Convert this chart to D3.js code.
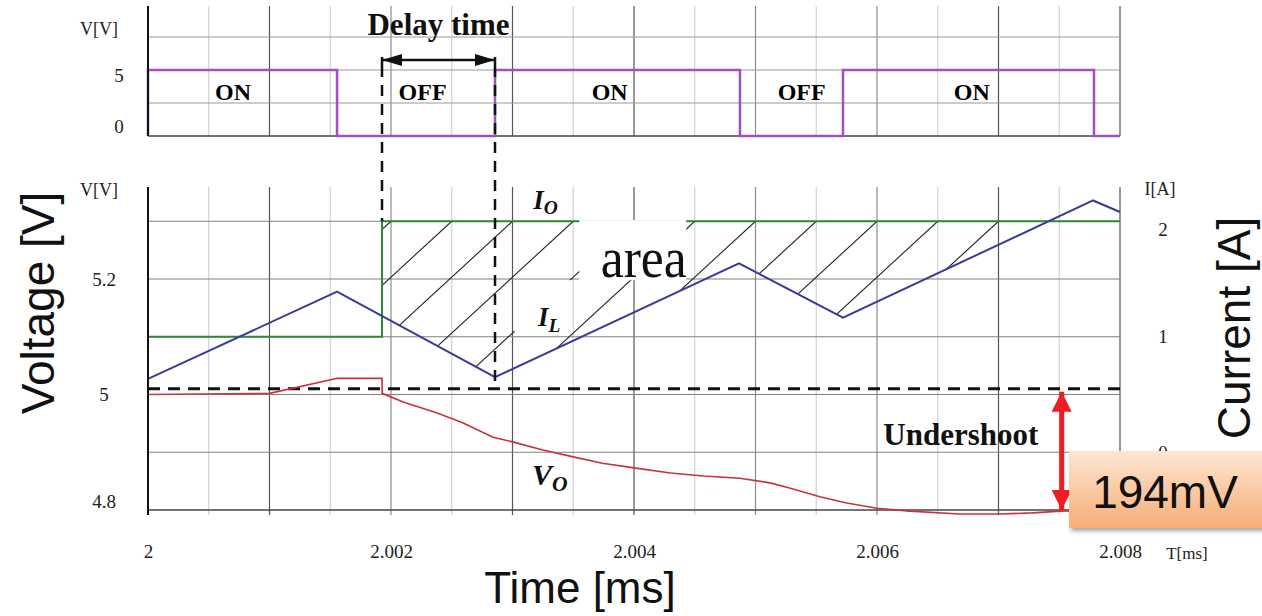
<!DOCTYPE html>
<html lang="en">
<head>
<meta charset="UTF-8">
<title>Load step response</title>
<script src="https://cdn.jsdelivr.net/npm/d3@7"></script>
<style>
  body { margin: 0; background: #fff; }
  svg { display: block; }
</style>
</head>
<body>
<script>
// ---- data ----
// time axis [ms]
var timeTicks = [2, 2.002, 2.004, 2.006, 2.008];
var gridTimes = [2, 2.0005, 2.001, 2.0015, 2.002, 2.0025, 2.003, 2.0035, 2.004,
                 2.0045, 2.005, 2.0055, 2.006, 2.0065, 2.007, 2.0075, 2.008];
var darkTimes = [2.001, 2.003, 2.004, 2.007, 2.008];
var midTimes = [2.002, 2.005, 2.006];

// left / right axes
var voltTicks = [4.8, 5, 5.2];
var voltGrid = [4.9, 5, 5.1, 5.2, 5.3];
var currTicks = [0, 1, 2];
var gateTicks = [0, 5];
var gateGrid = [2.5, 5, 7.5];

// switch gate signal
var gateT = [2, 2, 2.001556, 2.002856, 2.004872, 2.00572, 2.007786, 2.008];
var gateV = [0, 5, 0, 5, 0, 5, 0, 0];
var gateLabels = ["ON", "OFF", "ON", "OFF", "ON"];
var gateLabelT = [2.0007, 2.00226, 2.0038, 2.00538, 2.00678];

// inductor current I_L [A]
var ilT = [2, 2.001556, 2.002856, 2.004864, 2.00572, 2.007778, 2.008];
var ilA = [0.635, 1.39, 0.65, 1.635, 1.165, 2.18, 2.08];

// load current I_O [A]
var ioT = [2, 2.001926, 2.001926, 2.008];
var ioA = [1, 1, 2, 2];

// output voltage V_O [V]
var voT = [2, 2.001, 2.00156, 2.001926, 2.001927, 2.0021, 2.00238, 2.00259, 2.00284,
           2.003, 2.00325, 2.0035, 2.00374, 2.004, 2.0043, 2.00457, 2.00487, 2.00512,
           2.00528, 2.00553, 2.00575, 2.006, 2.00627, 2.00668, 2.00701, 2.00728,
           2.00751, 2.0078];
var voV = [5.0, 5.002, 5.028, 5.028, 5.002, 4.987, 4.968, 4.951, 4.926,
           4.918, 4.904, 4.892, 4.881, 4.873, 4.864, 4.859, 4.855, 4.847,
           4.838, 4.823, 4.812, 4.803, 4.798, 4.793, 4.793, 4.795,
           4.798, 4.800];

var refV = 5.01;           // dashed reference level
var stepT = 2.001926;      // load step
var turnOnT = 2.002856;    // switch turns back on
var undershootT = 2.00752; // red arrow
var hatchT = [2.002, 2.0025, 2.003, 2.0035, 2.004, 2.0045, 2.005, 2.0055, 2.006, 2.0065, 2.007];

// ---- chart ----
var W = 1262, H = 616;
var svg = d3.select("body").append("svg")
  .attr("width", W).attr("height", H)
  .style("background", "#fff");

var x = d3.scaleLinear().domain([2, 2.008]).range([148, 1120]);
var yV = d3.scaleLinear().domain([4.8, 5.3]).range([510, 221.25]);
var yI = d3.scaleLinear().domain([0, 2]).range([yV(4.9), yV(5.3)]);
var yG = d3.scaleLinear().domain([0, 5]).range([136, 70]);

var serif = '"Liberation Serif", "Times New Roman", serif';
var sans = '"Liberation Sans", Arial, sans-serif';
var plain = function(d) { return String(d); };

var defs = svg.append("defs");
function head(id, color, len, wid) {
  defs.append("marker")
    .attr("id", id)
    .attr("viewBox", "0 0 " + len + " " + wid)
    .attr("refX", len).attr("refY", wid / 2)
    .attr("markerWidth", len).attr("markerHeight", wid)
    .attr("markerUnits", "userSpaceOnUse")
    .attr("orient", "auto-start-reverse")
    .append("path")
    .attr("d", "M0,0L" + len + "," + (wid / 2) + "L0," + wid + "Z")
    .attr("fill", color);
}
head("blackHead", "#111", 20, 12);
head("redHead", "#ee1c24", 20, 20);

var grad = defs.append("linearGradient").attr("id", "boxGrad")
  .attr("x1", 0).attr("y1", 0).attr("x2", 0).attr("y2", 1);
grad.append("stop").attr("offset", "0%").attr("stop-color", "#fde7d4");
grad.append("stop").attr("offset", "100%").attr("stop-color", "#f7ad76");

var shadow = defs.append("filter").attr("id", "shadow")
  .attr("x", "-10%").attr("y", "-10%").attr("width", "130%").attr("height", "140%");
shadow.append("feDropShadow").attr("dx", 2).attr("dy", 3)
  .attr("stdDeviation", 2).attr("flood-opacity", 0.35);

function gridColor(t) {
  var near = function(arr) { return arr.some(function(v) { return Math.abs(v - t) < 1e-7; }); };
  if (near(darkTimes)) return "#555";
  if (near(midTimes)) return "#8c8c8c";
  return "#d2d2d2";
}

// ---- top panel (gate signal) ----
var gatePanel = svg.append("g");
gatePanel.selectAll("line.vg").data(gridTimes.slice(1)).enter().append("line")
  .attr("x1", function(d) { return x(d); }).attr("x2", function(d) { return x(d); })
  .attr("y1", 6).attr("y2", yG(0))
  .attr("stroke", gridColor).attr("stroke-width", 1.2);
gatePanel.selectAll("line.hg").data(gateGrid).enter().append("line")
  .attr("x1", x(2)).attr("x2", x(2.008))
  .attr("y1", function(d) { return yG(d); }).attr("y2", function(d) { return yG(d); })
  .attr("stroke", "#9a9a9a").attr("stroke-width", 1);
gatePanel.append("line").attr("x1", x(2)).attr("x2", x(2.008))
  .attr("y1", yG(0)).attr("y2", yG(0)).attr("stroke", "#444").attr("stroke-width", 1.5);

var gateLine = d3.line()
  .x(function(d) { return x(d[0]); }).y(function(d) { return yG(d[1]); })
  .curve(d3.curveStepAfter);
gatePanel.append("path")
  .attr("d", gateLine(gateT.map(function(t, i) { return [t, gateV[i]]; })))
  .attr("fill", "none").attr("stroke", "#a24fc4").attr("stroke-width", 2.5);

gatePanel.append("line").attr("x1", x(2)).attr("x2", x(2))
  .attr("y1", 6).attr("y2", yG(0)).attr("stroke", "#111").attr("stroke-width", 2);

gatePanel.selectAll("text.gl").data(gateLabels).enter().append("text")
  .attr("x", function(d, i) { return x(gateLabelT[i]); }).attr("y", 100)
  .attr("text-anchor", "middle")
  .style("font-family", serif).style("font-weight", "bold").style("font-size", "24px")
  .text(function(d) { return d; });

var gAxis = gatePanel.append("g").attr("transform", "translate(119,0)")
  .call(d3.axisLeft(yG).tickValues(gateTicks).tickSize(0).tickPadding(0).tickFormat(plain));
gAxis.select(".domain").remove();
gAxis.selectAll("text").attr("text-anchor", "middle")
  .style("font-family", serif).style("font-size", "19px").attr("fill", "#222");
gAxis.selectAll(".tick").filter(function(d) { return d === 0; })
  .select("text").attr("dy", "-0.2em");
gAxis.selectAll(".tick").filter(function(d) { return d === 5; })
  .select("text").attr("dy", "0.6em");
gatePanel.append("text").attr("x", 99).attr("y", 35).attr("text-anchor", "middle")
  .style("font-family", serif).style("font-size", "18px").attr("fill", "#222").text("V[V]");

// ---- bottom panel ----
var bot = svg.append("g");
bot.selectAll("line.vg").data(gridTimes.slice(1)).enter().append("line")
  .attr("x1", function(d) { return x(d); }).attr("x2", function(d) { return x(d); })
  .attr("y1", 187).attr("y2", 515)
  .attr("stroke", gridColor).attr("stroke-width", 1.2);
bot.selectAll("line.hg").data(voltGrid).enter().append("line")
  .attr("x1", x(2)).attr("x2", x(2.008))
  .attr("y1", function(d) { return yV(d); }).attr("y2", function(d) { return yV(d); })
  .attr("stroke", "#808080").attr("stroke-width", 1.2);
bot.append("line").attr("x1", x(2)).attr("x2", x(2.008))
  .attr("y1", yV(4.8)).attr("y2", yV(4.8)).attr("stroke", "#444").attr("stroke-width", 1.6);

// hatch between I_O and I_L after the load step
function ilAt(t) {
  for (var i = 0; i < ilT.length - 1; i++) {
    if (t >= ilT[i] && t <= ilT[i + 1])
      return ilA[i] + (t - ilT[i]) / (ilT[i + 1] - ilT[i]) * (ilA[i + 1] - ilA[i]);
  }
  return ilA[ilA.length - 1];
}
var ioHigh = ioA[ioA.length - 1];
var hatchPts = [{ t: stepT, a: ilAt(stepT) }];
for (var i = 0; i < ilT.length - 1; i++) {
  if (ilT[i + 1] <= stepT) continue;
  if (ilA[i + 1] >= ioHigh) {
    var tc = ilT[i] + (ioHigh - ilA[i]) / (ilA[i + 1] - ilA[i]) * (ilT[i + 1] - ilT[i]);
    hatchPts.push({ t: tc, a: ioHigh });
    break;
  }
  hatchPts.push({ t: ilT[i + 1], a: ilA[i + 1] });
}
var hatchArea = d3.area()
  .x(function(d) { return x(d.t); })
  .y0(yI(ioHigh))
  .y1(function(d) { return yI(d.a); });
defs.append("clipPath").attr("id", "hatchClip")
  .append("path").attr("d", hatchArea(hatchPts));
var slope = 0.92;
bot.append("g").attr("clip-path", "url(#hatchClip)")
  .selectAll("line").data(hatchT).enter().append("line")
  .attr("x1", function(d) { return x(d); }).attr("y1", yI(ioHigh))
  .attr("x2", function(d) { return x(d) - 300; }).attr("y2", yI(ioHigh) + 300 * slope)
  .attr("stroke", "#222").attr("stroke-width", 1.1);

// gap in hatch for I_L label
bot.append("rect")
  .attr("x", x(2.003) + 2).attr("y", yI(1.49))
  .attr("width", x(2.0035) - x(2.003) - 4).attr("height", yI(1.04) - yI(1.49))
  .attr("fill", "#fff");

// dashed reference level
bot.append("line").attr("x1", x(2)).attr("x2", x(2.008))
  .attr("y1", yV(refV)).attr("y2", yV(refV))
  .attr("stroke", "#111").attr("stroke-width", 2.8).attr("stroke-dasharray", "12,8");

var line = d3.line().x(function(d) { return x(d[0]); }).y(function(d) { return d[1]; });

bot.append("path")
  .attr("d", line(ioT.map(function(t, i) { return [t, yI(ioA[i])]; })))
  .attr("fill", "none").attr("stroke", "#2f8a36").attr("stroke-width", 2);
bot.append("path")
  .attr("d", line(ilT.map(function(t, i) { return [t, yI(ilA[i])]; })))
  .attr("fill", "none").attr("stroke", "#3a3a9c").attr("stroke-width", 2);
bot.append("path")
  .attr("d", line(voT.map(function(t, i) { return [t, yV(voV[i])]; })))
  .attr("fill", "none").attr("stroke", "#c8323c").attr("stroke-width", 1.6);

bot.append("line").attr("x1", x(2)).attr("x2", x(2))
  .attr("y1", 187).attr("y2", 515).attr("stroke", "#111").attr("stroke-width", 2);

// axes labels
var vAxis = bot.append("g").attr("transform", "translate(104,0)")
  .call(d3.axisLeft(yV).tickValues(voltTicks).tickSize(0).tickPadding(0).tickFormat(plain));
vAxis.select(".domain").remove();
vAxis.selectAll("text").attr("text-anchor", "middle")
  .style("font-family", serif).style("font-size", "19px").attr("fill", "#222");
vAxis.selectAll(".tick").filter(function(d) { return d === 4.8; })
  .select("text").attr("dy", "-0.15em");
bot.append("text").attr("x", 99).attr("y", 196).attr("text-anchor", "middle")
  .style("font-family", serif).style("font-size", "18px").attr("fill", "#222").text("V[V]");

var iAxis = bot.append("g").attr("transform", "translate(1163,0)")
  .call(d3.axisRight(yI).tickValues(currTicks).tickSize(0).tickPadding(0).tickFormat(plain));
iAxis.select(".domain").remove();
iAxis.selectAll("text").attr("text-anchor", "middle")
  .style("font-family", serif).style("font-size", "19px").attr("fill", "#222");
iAxis.selectAll(".tick").filter(function(d) { return d === 2; })
  .select("text").attr("dy", "0.75em");
bot.append("text").attr("x", 1160).attr("y", 195).attr("text-anchor", "middle")
  .style("font-family", serif).style("font-size", "18px").attr("fill", "#222").text("I[A]");

var tAxis = bot.append("g").attr("transform", "translate(0,544)")
  .call(d3.axisBottom(x).tickValues(timeTicks).tickSize(0).tickPadding(0).tickFormat(plain));
tAxis.select(".domain").remove();
tAxis.selectAll("text").style("font-family", serif).style("font-size", "19px").attr("fill", "#222");
bot.append("text").attr("x", 1187).attr("y", 559).attr("text-anchor", "middle")
  .style("font-family", serif).style("font-size", "17px").attr("fill", "#222").text("T[ms]");

// ---- annotations ----
// delay time
svg.append("line").attr("x1", x(stepT)).attr("x2", x(turnOnT)).attr("y1", 60).attr("y2", 60)
  .attr("stroke", "#111").attr("stroke-width", 2.5)
  .attr("marker-start", "url(#blackHead)").attr("marker-end", "url(#blackHead)");
[stepT, turnOnT].forEach(function(t) {
  svg.append("line").attr("x1", x(t)).attr("x2", x(t)).attr("y1", 57).attr("y2", 66)
    .attr("stroke", "#111").attr("stroke-width", 2.5);
});
svg.append("line").attr("x1", x(stepT)).attr("x2", x(stepT))
  .attr("y1", 66).attr("y2", yI(ioHigh))
  .attr("stroke", "#111").attr("stroke-width", 2.5).attr("stroke-dasharray", "11,8");
svg.append("line").attr("x1", x(turnOnT)).attr("x2", x(turnOnT))
  .attr("y1", 66).attr("y2", yV(refV))
  .attr("stroke", "#111").attr("stroke-width", 2.5).attr("stroke-dasharray", "11,8");
svg.append("text").attr("x", (x(stepT) + x(turnOnT)) / 2).attr("y", 35)
  .attr("text-anchor", "middle")
  .style("font-family", serif).style("font-weight", "bold").style("font-size", "31px")
  .attr("fill", "#111").text("Delay time");

// curve labels
function sub(g, t, yy, main, s, size) {
  var tx = g.append("text").attr("x", x(t)).attr("y", yy)
    .style("font-family", serif).style("font-weight", "bold").style("font-style", "italic")
    .style("font-size", size + "px").attr("fill", "#111");
  tx.append("tspan").text(main);
  tx.append("tspan").attr("dy", size * 0.22).style("font-size", (size * 0.72) + "px").text(s);
}
sub(svg, 2.00317, yI(2.11), "I", "O", 27);
sub(svg, 2.00321, yI(1.09), "I", "L", 27);
sub(svg, 2.00316, yV(4.844), "V", "O", 30);

// "area" label
svg.append("rect").attr("x", x(2.00355)).attr("y", yI(2.01))
  .attr("width", x(2.00443) - x(2.00355)).attr("height", yV(5.198) - yI(2.01))
  .attr("fill", "#fff");
svg.append("text").attr("x", x(2.00408)).attr("y", yV(5.203))
  .attr("text-anchor", "middle")
  .attr("textLength", 86).attr("lengthAdjust", "spacingAndGlyphs")
  .style("font-family", serif).style("font-size", "58px").attr("fill", "#111").text("area");

// undershoot
svg.append("text").attr("x", x(2.00669)).attr("y", yV(4.912))
  .attr("text-anchor", "middle")
  .style("font-family", serif).style("font-weight", "bold").style("font-size", "31px")
  .attr("fill", "#111").text("Undershoot");

svg.append("line").attr("x1", x(undershootT)).attr("x2", x(undershootT))
  .attr("y1", yV(refV) + 3).attr("y2", yV(4.8))
  .attr("stroke", "#ee1c24").attr("stroke-width", 5)
  .attr("marker-start", "url(#redHead)").attr("marker-end", "url(#redHead)");

svg.append("rect").attr("x", 1069).attr("y", 451).attr("width", 200).attr("height", 77)
  .attr("fill", "url(#boxGrad)").attr("filter", "url(#shadow)");
svg.append("text").attr("x", 1165).attr("y", 508).attr("text-anchor", "middle")
  .style("font-family", sans).style("font-size", "46px").attr("fill", "#111").text("194mV");

// axis titles
svg.append("text").attr("transform", "translate(54,303) rotate(-90)")
  .attr("text-anchor", "middle")
  .style("font-family", sans).style("font-size", "46px").attr("fill", "#111").text("Voltage [V]");
svg.append("text").attr("transform", "translate(1250,328) rotate(-90)")
  .attr("text-anchor", "middle")
  .style("font-family", sans).style("font-size", "46px").attr("fill", "#111").text("Current [A]");
svg.append("text").attr("x", 580).attr("y", 603).attr("text-anchor", "middle")
  .style("font-family", sans).style("font-size", "44px").attr("fill", "#111").text("Time [ms]");
</script>
</body>
</html>
